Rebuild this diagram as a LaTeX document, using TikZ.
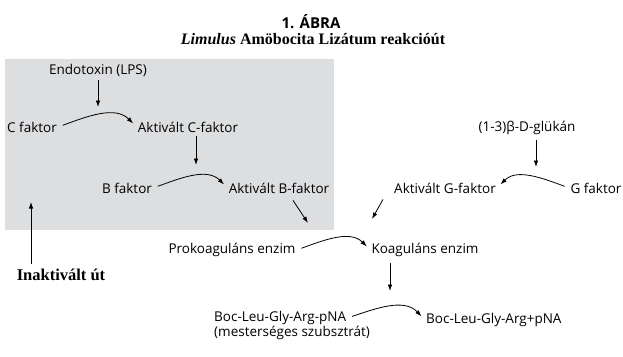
\documentclass[tikz,border=0pt]{standalone}
\usepackage{fontspec}
\setmainfont{Liberation Serif}
\setsansfont{Open Sans}
\usetikzlibrary{positioning,arrows.meta}
\definecolor{boxgray}{RGB}{221,222,224}

\begin{document}
\begin{tikzpicture}[x=1pt, y=-1pt,
  lbl/.style = {font = \sffamily\fontsize{13.5}{14}\selectfont, inner sep = 1pt},
  arr/.style = {-{Latex[length=6.5pt, width=4.5pt]}, line width = 0.8pt},
  reac/.style = {arr, shorten <= 5pt, shorten >= 5pt}]
\useasboundingbox (0,0) rectangle (623,356);
\fill[boxgray] (5,59) rectangle (334,230);

\node[font = \sffamily\bfseries\fontsize{15}{17}\selectfont] (title) at (311,22) {1. ÁBRA};
\node[font = \bfseries\fontsize{16}{18}\selectfont] (subtitle) at (313,39) {\textit{Limulus} Amöbocita Lizátum reakcióút};

\node[lbl] (endo) at (98,70)  {Endotoxin (LPS)};
\node[lbl] (cf)   at (32,127) {C faktor};
\node[lbl] (acf)  at (188,127) {Aktivált C-faktor};
\node[lbl] (bf)   at (127,188) {B faktor};
\node[lbl] (abf)  at (279,188) {Aktivált B-faktor};
\node[lbl] (glu)  at (527,128) {(1-3)β-D-glükán};
\node[lbl] (gf)   at (596,188) {G faktor};
\node[lbl] (agf)  at (445,188) {Aktivált G-faktor};
\node[lbl] (pro)  at (232,250) {Prokoaguláns enzim};
\node[lbl] (koag) at (425,250) {Koaguláns enzim};
\node[lbl, anchor = west] (boc) at (213,318) {Boc-Leu-Gly-Arg-pNA};
\node[lbl, anchor = north west, inner sep = 0pt, xshift = 1pt] (bocsub) at (boc.south west) {(mesterséges szubsztrát)};
\node[lbl, anchor = west] (bocp) at (425,320) {Boc-Leu-Gly-Arg+pNA};
\node[font = \bfseries\fontsize{16.5}{18}\selectfont] (ut) at (61,275) {Inaktivált út};

\coordinate (e1) at (98,107);
\coordinate (e2) at (196,165);
\coordinate (e3) at (308,223);
\coordinate (e4) at (536,167);
\coordinate (e5) at (372,219);
\coordinate (e6) at (390,291);
\coordinate (e7) at (31,202);

\draw[arr, shorten <= 3pt] (e1 |- endo.south) -- (e1);
\draw[arr, shorten <= 3pt] (e2 |- acf.south) -- (e2);
\draw[arr] ([xshift = 14pt, yshift = -6pt]abf.south) -- (e3);
\draw[arr, shorten <= 4pt] (e4 |- glu.south) -- (e4);
\draw[arr] ([xshift = -62pt, yshift = -5pt]agf.south) -- (e5);
\draw[arr, shorten <= 5pt] (e6 |- koag.south) -- (e6);
\draw[arr, shorten <= 2pt] (e7 |- ut.north) -- (e7);

\draw[reac] (cf.east) to[relative, out = 20, in = 135] (acf.west);
\draw[reac] (bf.east) to[relative, out = 20, in = 135] (abf.west);
\draw[reac] (gf.west) to[relative, out = -20, in = -135] (agf.east);
\draw[reac] (pro.east) to[relative, out = 20, in = 135] (koag.west);
\draw[reac] (boc.east) to[relative, out = 20, in = 135] (bocp.west);
\end{tikzpicture}
\end{document}
